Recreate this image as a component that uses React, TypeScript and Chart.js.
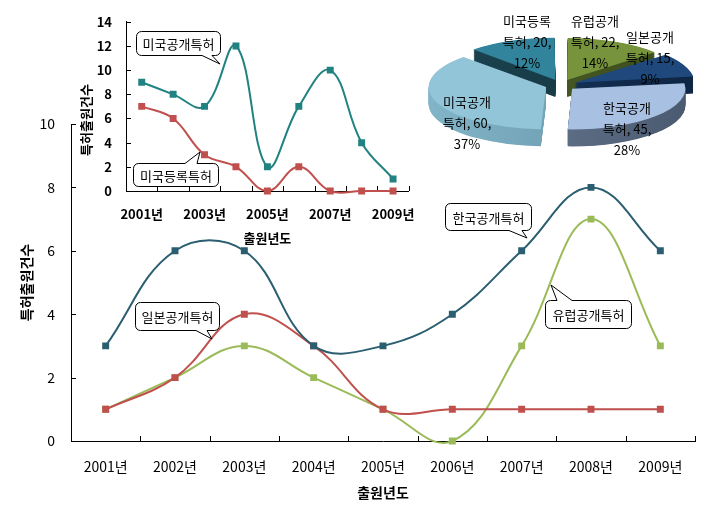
import React, { useEffect, useRef } from 'react';
import { Chart, registerables } from 'chart.js';

Chart.register(...registerables);

const FONT = '"Noto Sans CJK KR", "Noto Sans", sans-serif';
Chart.defaults.font.family = FONT;
Chart.defaults.color = '#000';

// ---------- data ----------
const YEARS = ['2001년', '2002년', '2003년', '2004년', '2005년', '2006년', '2007년', '2008년', '2009년'];
const KOREA_PUB = [3, 6, 6, 3, 3, 4, 6, 8, 6];
const JAPAN_PUB = [1, 2, 4, 3, 1, 1, 1, 1, 1];
const EUROPE_PUB = [1, 2, 3, 2, 1, 0, 3, 7, 3];
const US_PUB = [9, 8, 7, 12, 2, 7, 10, 4, 1];
const US_REG = [7, 6, 3, 2, 0, 2, 0, 0, 0];

const PIE_NAMES = ['유럽공개특허', '일본공개특허', '한국공개특허', '미국공개특허', '미국등록특허'];
const PIE_VALUES = [22, 15, 45, 60, 20];

const MAIN_Y_TICKS = { min: 0, max: 10, step: 2 };
const INSET_Y_TICKS = { min: 0, max: 14, step: 2 };

// ---------- styles ----------
const C_KR = '#2A5E70';
const C_JP = '#C0504D';
const C_EU = '#9BBB59';
const C_USP = '#218282';
const C_USR = '#C0504D';

const PIE_TOP = ['#77933C', '#1F497D', '#A8C0E2', '#93C5D9', '#31849B'];
const PIE_SIDE = [
  ['#4F6228', '#3A4A1C'],
  ['#173A66', '#0E2340'],
  ['#6E8099', '#46566C'],
  ['#86B8CC', '#5F8FA3'],
  ['#1C4552', '#12323C'],
];
const PIE_EXPLODE = [60, 60, 60, 64, 60];
const PIE_LABEL_POS = [[34, -43], [89, -27], [66, 44], [-94, 38], [-34, -43]];

// ---------- plugins ----------
const innerTicks = {
  id: 'innerTicks',
  beforeDatasetsDraw(chart: any, _a: any, opts: any) {
    const { ctx, chartArea } = chart;
    const xs = chart.scales.x;
    const ys = chart.scales.y;
    ctx.save();
    ctx.strokeStyle = opts.color || '#000';
    ctx.lineWidth = 1;
    ctx.beginPath();
    const n = xs.getLabels().length;
    for (let i = 1; i <= n; i++) {
      const px = i < n ? (xs.getPixelForValue(i - 1) + xs.getPixelForValue(i)) / 2 : chartArea.right;
      const x = Math.round(px) + 0.5;
      ctx.moveTo(x, chartArea.bottom);
      ctx.lineTo(x, chartArea.bottom - opts.len);
    }
    ys.ticks.forEach((t: any) => {
      const y = Math.round(ys.getPixelForValue(t.value)) + 0.5;
      ctx.moveTo(chartArea.left, y);
      ctx.lineTo(chartArea.left + opts.len, y);
    });
    ctx.stroke();
    ctx.restore();
  },
};

function drawCallout(ctx: CanvasRenderingContext2D, c: any, dx: number, dy: number, font: string) {
  const [bx, by, bw, bh] = c.box;
  const x = Math.round(bx - dx) + 0.5;
  const y = Math.round(by - dy) + 0.5;
  const r = 5;
  const b1 = c.base[0] - dx;
  const b2 = c.base[1] - dx;
  const tx = c.tip[0] - dx;
  const ty = c.tip[1] - dy;
  ctx.save();
  ctx.beginPath();
  ctx.moveTo(x + r, y);
  if (c.edge === 'top') {
    ctx.lineTo(b1, y);
    ctx.lineTo(tx, ty);
    ctx.lineTo(b2, y);
  }
  ctx.lineTo(x + bw - r, y);
  ctx.arcTo(x + bw, y, x + bw, y + r, r);
  ctx.lineTo(x + bw, y + bh - r);
  ctx.arcTo(x + bw, y + bh, x + bw - r, y + bh, r);
  if (c.edge === 'bottom') {
    ctx.lineTo(b2, y + bh);
    ctx.lineTo(tx, ty);
    ctx.lineTo(b1, y + bh);
  }
  ctx.lineTo(x + r, y + bh);
  ctx.arcTo(x, y + bh, x, y + bh - r, r);
  ctx.lineTo(x, y + r);
  ctx.arcTo(x, y, x + r, y, r);
  ctx.closePath();
  ctx.fillStyle = '#fff';
  ctx.fill();
  ctx.strokeStyle = '#000';
  ctx.lineWidth = 1;
  ctx.stroke();
  ctx.fillStyle = '#000';
  ctx.font = font;
  ctx.textAlign = 'center';
  ctx.textBaseline = 'middle';
  ctx.fillText(c.text, x + bw / 2, y + bh / 2 + 1);
  ctx.restore();
}

const callouts = {
  id: 'callouts',
  afterDraw(chart: any, _a: any, opts: any) {
    const ctx = chart.ctx;
    (opts.items || []).forEach((c: any) => drawCallout(ctx, c, opts.dx || 0, opts.dy || 0, opts.font));
    (opts.texts || []).forEach((t: any) => {
      ctx.save();
      ctx.translate(t.x - (opts.dx || 0), t.y - (opts.dy || 0));
      ctx.rotate(t.rot || 0);
      ctx.font = t.font;
      ctx.fillStyle = '#000';
      ctx.textAlign = 'center';
      ctx.textBaseline = 'middle';
      ctx.fillText(t.text, 0, 0);
      ctx.restore();
    });
  },
};

const pie3d = {
  id: 'pie3d',
  beforeDatasetsDraw(chart: any, _a: any, opts: any) {
    const meta = chart.getDatasetMeta(0);
    const ctx = chart.ctx;
    const el0 = meta.data[0];
    const cx = el0.x;
    const cy = el0.y;
    const k = opts.tilt;
    ctx.save();
    ctx.translate(cx, cy);
    ctx.scale(1, k);
    ctx.translate(-cx, -cy);
    const R = el0.outerRadius;
    const fills = opts.sideColors.map((pair: string[]) => {
      const g = ctx.createLinearGradient(cx - R - 30, 0, cx + R + 30, 0);
      g.addColorStop(0, pair[0]);
      g.addColorStop(1, pair[1]);
      return g;
    });
    for (let t = opts.depth; t > 0; t -= 0.5) {
      meta.data.forEach((el: any, i: number) => {
        const orig = el.options;
        el.options = { ...orig, backgroundColor: fills[i], borderColor: fills[i], borderWidth: 0 };
        ctx.save();
        ctx.translate(0, t / k);
        el.draw(ctx);
        ctx.restore();
        el.options = orig;
      });
    }
  },
  afterDatasetsDraw(chart: any) {
    chart.ctx.restore();
  },
  afterDraw(chart: any, _a: any, opts: any) {
    const meta = chart.getDatasetMeta(0);
    const ctx = chart.ctx;
    const el0 = meta.data[0];
    const cx = el0.x;
    const cy = el0.y;
    const ds = chart.data.datasets[0];
    const total = ds.data.reduce((a: number, b: number) => a + b, 0);
    ctx.save();
    ctx.font = opts.font;
    ctx.fillStyle = '#000';
    ctx.textAlign = 'center';
    ctx.textBaseline = 'middle';
    chart.data.labels.forEach((name: string, i: number) => {
      const v = ds.data[i];
      const pct = Math.round((v / total) * 100);
      const lines = [name.slice(0, 4), name.slice(4) + ', ' + v + ',', pct + '%'];
      const [px, py] = opts.pos[i];
      lines.forEach((ln, j) => ctx.fillText(ln, cx + px, cy + py + (j - 1) * 21));
    });
    ctx.restore();
  },
};

function lineDs(label: string, data: number[], color: string) {
  return {
    label,
    data,
    borderColor: color,
    backgroundColor: color,
    pointBackgroundColor: color,
    pointBorderColor: color,
    pointStyle: 'rect',
    pointRadius: 3.5,
    borderWidth: 2,
    tension: 0.4,
    clip: 4,
  };
}

export default function App() {
  const mainRef = useRef<HTMLCanvasElement>(null);
  const insetRef = useRef<HTMLCanvasElement>(null);
  const pieRef = useRef<HTMLCanvasElement>(null);

  useEffect(() => {
    const main = new Chart(mainRef.current as HTMLCanvasElement, {
      type: 'line',
      data: {
        labels: YEARS,
        datasets: [
          lineDs('한국공개특허', KOREA_PUB, C_KR),
          lineDs('일본공개특허', JAPAN_PUB, C_JP),
          lineDs('유럽공개특허', EUROPE_PUB, C_EU),
        ] as any,
      },
      plugins: [innerTicks, callouts],
      options: {
        responsive: false,
        animation: false,
        events: [],
        layout: { padding: { left: 0, right: 7, top: 124, bottom: 0 } },
        elements: { line: { capBezierPoints: false } as any },
        plugins: {
          legend: { display: false },
          tooltip: { enabled: false },
          innerTicks: { len: 5, color: '#000' },
          callouts: {
            font: '13px ' + FONT,
            items: [
              { text: '일본공개특허', box: [135, 302, 84, 28], edge: 'bottom', base: [196, 207], tip: [212, 339] },
              { text: '한국공개특허', box: [445, 203, 86, 27], edge: 'bottom', base: [509, 522], tip: [527, 238] },
              { text: '유럽공개특허', box: [545, 300, 86, 28], edge: 'top', base: [557, 572], tip: [551, 285] },
            ],
          },
        } as any,
        scales: {
          x: {
            offset: true,
            grid: { display: false, drawTicks: false },
            border: { display: true, color: '#000' },
            ticks: { color: '#000', font: { size: 14 }, padding: 17, autoSkip: false, maxRotation: 0 },
            title: { display: true, text: '출원년도', color: '#000', font: { size: 14, weight: 'bold' }, padding: { top: 0, bottom: 6 } },
            afterFit: (s: any) => { s.height = 66; },
          },
          y: {
            min: MAIN_Y_TICKS.min,
            max: MAIN_Y_TICKS.max,
            grid: { display: false, drawTicks: false },
            border: { display: true, color: '#000' },
            ticks: { stepSize: MAIN_Y_TICKS.step, color: '#000', font: { size: 14 }, padding: 16 },
            title: { display: true, text: '특허출원건수', color: '#000', font: { size: 14, weight: 'bold' }, padding: { top: 18, bottom: 0 } },
            afterFit: (s: any) => { s.width = 71; },
          },
        } as any,
      },
    });

    const inset = new Chart(insetRef.current as HTMLCanvasElement, {
      type: 'line',
      data: {
        labels: YEARS,
        datasets: [
          lineDs('미국공개특허', US_PUB, C_USP),
          lineDs('미국등록특허', US_REG, C_USR),
        ] as any,
      },
      plugins: [innerTicks, callouts],
      options: {
        responsive: false,
        animation: false,
        events: [],
        layout: { padding: { left: 0, right: 11, top: 13, bottom: 0 } },
        elements: { line: { capBezierPoints: false } as any },
        plugins: {
          legend: { display: false },
          tooltip: { enabled: false },
          innerTicks: { len: 5, color: '#000' },
          callouts: {
            dx: 70,
            dy: 0,
            font: '13px ' + FONT,
            items: [
              { text: '미국공개특허', box: [136, 31, 84, 24], edge: 'bottom', base: [202, 212], tip: [220, 64] },
              { text: '미국등록특허', box: [133, 163, 85, 23], edge: 'top', base: [185, 197], tip: [200, 152] },
            ],
            texts: [{ text: '특허출원건수', x: 86, y: 120, rot: -Math.PI / 2, font: 'bold 13px ' + FONT }],
          },
        } as any,
        scales: {
          x: {
            offset: true,
            grid: { display: false, drawTicks: false },
            border: { display: true, color: '#000' },
            ticks: {
              color: '#000',
              font: { size: 13, weight: 'bold' },
              padding: 15,
              autoSkip: false,
              maxRotation: 0,
              callback: (_v: any, i: number) => (i % 2 === 0 ? YEARS[i] : ''),
            },
            title: { display: true, text: '출원년도', color: '#000', font: { size: 13, weight: 'bold' }, padding: { top: 0, bottom: 4 } },
            afterFit: (s: any) => { s.height = 59; },
          },
          y: {
            min: INSET_Y_TICKS.min,
            max: INSET_Y_TICKS.max,
            grid: { display: false, drawTicks: false },
            border: { display: true, color: '#000' },
            ticks: { stepSize: INSET_Y_TICKS.step, color: '#000', font: { size: 13, weight: 'bold' }, padding: 14 },
            afterFit: (s: any) => { s.width = 56; },
          },
        } as any,
      },
    });

    const pie = new Chart(pieRef.current as HTMLCanvasElement, {
      type: 'pie',
      data: {
        labels: PIE_NAMES,
        datasets: [
          {
            data: PIE_VALUES,
            backgroundColor: PIE_TOP,
            borderWidth: 0,
            offset: PIE_EXPLODE,
          } as any,
        ],
      },
      plugins: [pie3d],
      options: {
        responsive: false,
        animation: false,
        events: [],
        radius: 113,
        rotation: 0,
        layout: { padding: 0 },
        plugins: {
          legend: { display: false },
          tooltip: { enabled: false },
          pie3d: { tilt: 0.36, depth: 17, sideColors: PIE_SIDE, pos: PIE_LABEL_POS, font: '13px ' + FONT },
        } as any,
      } as any,
    });

    return () => {
      main.destroy();
      inset.destroy();
      pie.destroy();
    };
  }, []);

  return (
    <div style={{ position: 'absolute', left: 0, top: 0, width: 702, height: 507, overflow: 'hidden', background: '#fff' }}>
      <canvas ref={mainRef} width={702} height={507} style={{ position: 'absolute', left: 0, top: 0 }} />
      <canvas ref={insetRef} width={360} height={250} style={{ position: 'absolute', left: 70, top: 0 }} />
      <canvas ref={pieRef} width={282} height={170} style={{ position: 'absolute', left: 420, top: 0 }} />
    </div>
  );
}
